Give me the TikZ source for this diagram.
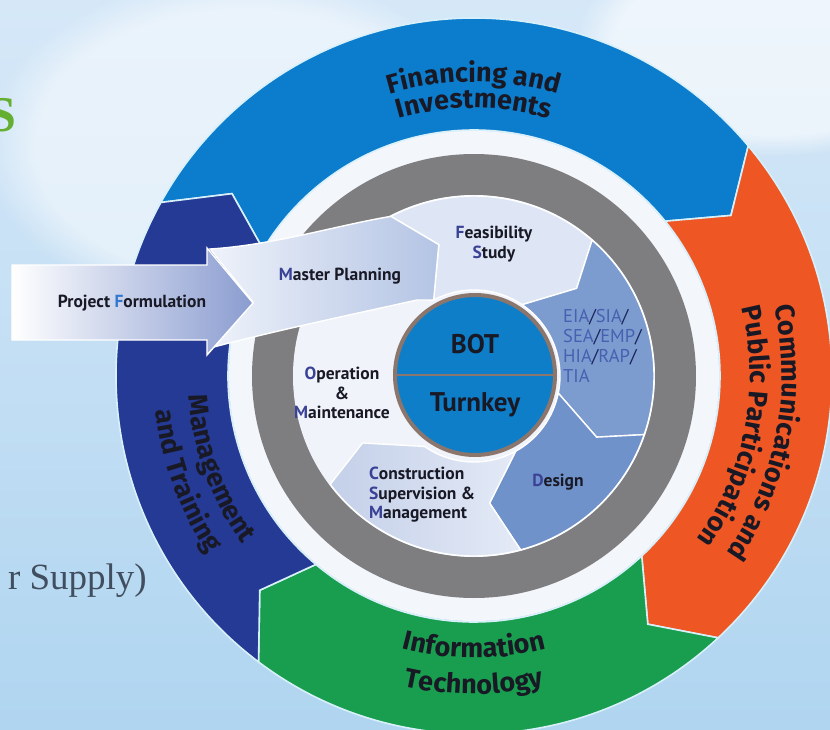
\documentclass[tikz,border=0pt]{standalone}
\usepackage{fontspec}
\setmainfont{Fira Sans}
\newfontfamily\innerfont{PT Sans}
\newfontfamily\titlefont{Liberation Serif}
\usepackage{tikz}
\usetikzlibrary{fadings}
\usetikzlibrary{shapes, positioning, decorations.text}

\definecolor{skytop}{RGB}{214,232,248}
\definecolor{skybot}{RGB}{176,213,240}
\definecolor{finblue}{RGB}{12,124,204}
\definecolor{commorange}{RGB}{238,86,36}
\definecolor{itgreen}{RGB}{24,158,78}
\definecolor{mgmtblue}{RGB}{36,58,148}
\definecolor{ringline}{RGB}{215,240,250}
\definecolor{ringwhite}{RGB}{243,246,250}
\definecolor{ringgrey}{RGB}{126,126,128}
\definecolor{discfill}{RGB}{240,243,250}
\definecolor{chevmid}{RGB}{124,155,206}
\definecolor{chevdes}{RGB}{112,146,202}
\definecolor{feas}{RGB}{222,230,246}
\definecolor{consleft}{RGB}{196,208,233}
\definecolor{consright}{RGB}{228,234,246}
\definecolor{mpleft}{RGB}{238,242,250}
\definecolor{mpright}{RGB}{180,196,228}
\definecolor{pfright}{RGB}{138,156,208}
\definecolor{botblue}{RGB}{14,126,200}
\definecolor{botrim}{RGB}{138,118,108}
\definecolor{ink}{RGB}{25,25,38}
\definecolor{inicol}{RGB}{58,66,150}
\definecolor{pfcol}{RGB}{50,120,205}
\definecolor{eiacol}{RGB}{70,96,178}
\definecolor{slashcol}{RGB}{25,35,90}
\definecolor{supplycol}{RGB}{65,78,95}
\definecolor{dollargreen}{RGB}{100,175,50}

\newcommand{\ringfont}{\fontsize{27}{27}\selectfont\bfseries\color{ink}}
\newcommand{\ini}[1]{\textcolor{inicol}{#1}}
\newcommand{\slsh}{\textcolor{slashcol}{/}}

\tikzset{
  seg/.style={draw=ringline, line width=1.6},
  chev/.style={draw=white, line width=1.4},
  lbl/.style={font=\innerfont\bfseries\fontsize{17.5}{19.5}\selectfont, text=ink, align=center, inner sep=0},
  hub/.style={circle, minimum size=160, inner sep=0, fill=botblue, draw=botrim, line width=4},
  hubtext/.style={font=\innerfont\bfseries\fontsize{27}{27}\selectfont, text=ink, inner sep=0},
  ringtext/.style={decorate, decoration={text along path, text align=center, text={|\ringfont|#1}}}
}

\begin{document}
\begin{tikzpicture}[x=1pt,y=1pt]
\useasboundingbox (-474,-353) rectangle (356,376);
\clip (-474,-353) rectangle (356,376);

% sky
\shade[top color=skytop, bottom color=skybot] (-474,-353) rectangle (356,376);
\fill[white, path fading=circle with fuzzy edge 20 percent, opacity=0.5] (-230,230) ellipse [x radius=260, y radius=170];
\fill[white, path fading=circle with fuzzy edge 20 percent, opacity=0.6] (300,330) ellipse [x radius=200, y radius=110];

% bits of the page title
\node[font=\titlefont\bfseries\fontsize{50}{50}\selectfont, text=dollargreen, inner sep=0] (dollar) at (-472,261) {S};
\node[font=\titlefont\fontsize{37}{37}\selectfont, text=supplycol, anchor=base east, inner sep=0] (supply) at (-327,-213) {r Supply)};

% outer ring
\path[seg, fill=finblue] (151:358) arc[start angle=151, end angle=40, radius=358] -- (32:303) -- (39:246) arc[start angle=39, end angle=149, radius=246] -- (143:303) -- cycle;
\path[seg, fill=commorange] (40:358) arc[start angle=40, end angle=-47, radius=358] -- (-55:303) -- (-47:246) arc[start angle=-47, end angle=39, radius=246] -- (32:303) -- cycle;
\path[seg, fill=itgreen] (-47:358) arc[start angle=-47, end angle=-127, radius=358] -- (-135:303) -- (-130:246) arc[start angle=-130, end angle=-47, radius=246] -- (-55:303) -- cycle;
\path[seg, fill=mgmtblue] (-127:358) arc[start angle=-127, end angle=-209, radius=358] -- (-217:303) -- (-211:246) arc[start angle=-211, end angle=-130, radius=246] -- (-135:303) -- cycle;

\path[ringtext={Financing and}] (140:294) arc[start angle=140, end angle=40, radius=294];
\path[ringtext={Investments}] (140:268) arc[start angle=140, end angle=40, radius=268];
\path[ringtext={Communications and}] (30:308) arc[start angle=30, end angle=-52, radius=308];
\path[ringtext={Public Participation}] (30:276) arc[start angle=30, end angle=-52, radius=276];
\path[ringtext={Information}] (-130:282) arc[start angle=-130, end angle=-50, radius=282];
\path[ringtext={Technology}] (-130:318) arc[start angle=-130, end angle=-50, radius=318];
\path[ringtext={Management}] (160:286) arc[start angle=160, end angle=240, radius=286];
\path[ringtext={and Training}] (160:320) arc[start angle=160, end angle=240, radius=320];

% white and grey rings, inner disc
\fill[ringwhite] (0,0) circle[radius=245];
\fill[ringgrey] (0,0) circle[radius=222];
\fill[discfill] (0,0) circle[radius=181];

% inner chevrons
\path[chev, fill=feas] (117.5:180) arc[start angle=117.5, end angle=49, radius=180] -- (40.5:135) -- (56:86) arc[start angle=56, end angle=118, radius=86] -- (105:136) -- cycle;
\path[chev, fill=chevmid] (49:180) arc[start angle=49, end angle=-19, radius=180] -- (-26.5:137) -- (-11.5:86) arc[start angle=-11.5, end angle=56, radius=86] -- (40.5:135) -- cycle;
\path[chev, fill=chevdes] (-19:180) arc[start angle=-19, end angle=-75, radius=180] -- (-83:128) -- (-61:86) arc[start angle=-61, end angle=-11.5, radius=86] -- (-26.5:137) -- cycle;
\path[chev, left color=consleft, right color=consright] (-75:180) arc[start angle=-75, end angle=-143, radius=180] -- (-149:130) -- (-125:86) arc[start angle=-125, end angle=-61, radius=86] -- (-83:128) -- cycle;

% master planning band
\path[chev, left color=mpleft, right color=mpright] (-264,127) .. controls (-200,131) and (-140,150) .. (117.5:180) -- (105:136) -- (118:86) -- (-57,76) .. controls (-120,62) and (-200,45) .. (-264,28) -- (-221,74) -- cycle;

% project formulation arrow
\path[chev, left color=white, right color=pfright] (-462,36) -- (-462,111) -- (-267,111) -- (-267,128) -- (-221,73) -- (-267,21) -- (-267,36) -- cycle;

% hub
\node[hub] (hub) at (1,1) {};
\draw[botrim, line width=1.5] (hub.west) -- (hub.east);
\node[hubtext] (bot) at ([yshift=31]hub.center) {BOT};
\node[hubtext] (turnkey) at ([yshift=-30]hub.center) {Turnkey};

% labels
\node[lbl] (pf) at (-342,73) {Project \textcolor{pfcol}{F}ormulation};
\node[lbl] (mp) at (-134,100) {\ini{M}aster Planning};
\node[lbl] (fs) at (20,132) {\ini{F}easibility\\\ini{S}tudy};
\node[lbl, font=\innerfont\fontsize{18.5}{20}\selectfont, text=eiacol, align=left, anchor=north west] (eia) at (89,67) {EIA\slsh SIA\slsh\\SEA\slsh EMP\slsh\\HIA\slsh RAP\slsh\\TIA};
\node[lbl] (om) at (-132,-17) {\ini{O}peration\\\&\\\ini{M}aintenance};
\node[lbl, align=left, anchor=west] (csm) at (-105,-119) {\ini{C}onstruction\\\ini{S}upervision \&\\\ini{M}anagement};
\node[lbl] (des) at (84,-106) {\ini{D}esign};
\end{tikzpicture}
\end{document}
